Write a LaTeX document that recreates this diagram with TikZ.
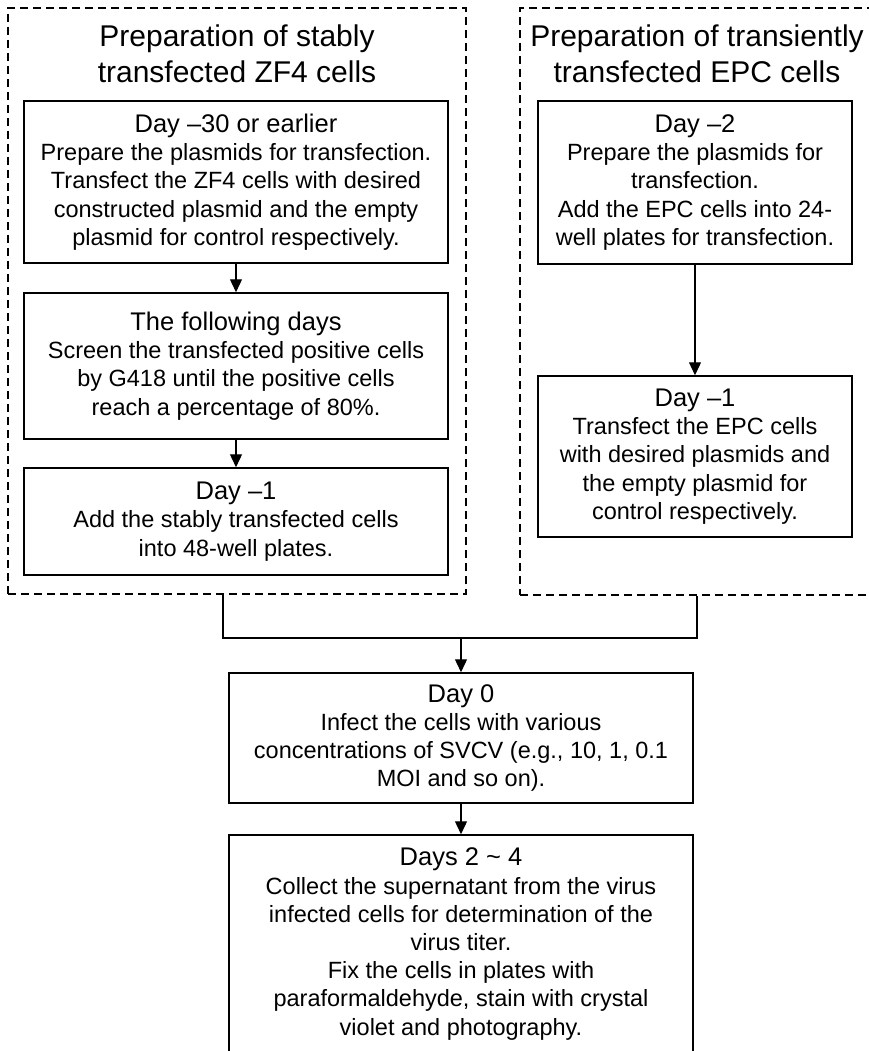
\documentclass[tikz,border=0pt]{standalone}
\usepackage{fontspec}
\setmainfont{Liberation Sans}
\usepackage{tikz}
\usetikzlibrary{positioning, arrows.meta}

\newcommand{\daylabel}[1]{{\fontsize{25.5}{28.2}\selectfont #1}}

\begin{document}
\begin{tikzpicture}[
    x=1pt, y=-1pt,
    step box/.style={draw=black, line width=1.5pt, inner sep=0pt, align=center,
        font=\fontsize{23.5}{28.2}\selectfont},
    group/.style={draw=black, line width=1.4pt, dash pattern=on 8pt off 5pt, inner sep=0pt},
    title/.style={align=center, inner sep=0pt, font=\fontsize{30}{36}\selectfont},
    link/.style={line width=1.3pt, black},
    arrow/.style={link, -{Triangle[length=13pt, width=12pt]}}
]
    \useasboundingbox (0,0) rectangle (869,1051);

    % --- Left group: stably transfected ZF4 cells
    \node[group, minimum width=458pt, minimum height=586pt] (LeftGrp) at (237, 301) {};
    \node[title] (LeftTitle) at (237, 54) {Preparation of stably\\transfected ZF4 cells};

    \node[step box, minimum width=424pt, minimum height=162pt] (Zfa) at (236, 182)
        {\daylabel{Day –30 or earlier}\\Prepare the plasmids for transfection.\\Transfect the ZF4 cells with desired\\constructed plasmid and the empty\\plasmid for control respectively.};
    \node[step box, minimum width=424pt, minimum height=146pt] (Zfb) at (236, 366)
        {\daylabel{The following days}\\Screen the transfected positive cells\\by G418 until the positive cells\\reach a percentage of 80\%.};
    \node[step box, minimum width=424pt, minimum height=107pt] (Zfc) at (236, 521.5)
        {\daylabel{Day –1}\\Add the stably transfected cells\\into 48-well plates.};

    % --- Right group: transiently transfected EPC cells
    \node[group, minimum width=365pt, minimum height=587pt] (RightGrp) at (702.5, 301.5) {};
    \node[title] (RightTitle) at (697, 54) {Preparation of transiently\\transfected EPC cells};

    \node[step box, minimum width=314pt, minimum height=163pt] (Epa) at (695, 182.5)
        {\daylabel{Day –2}\\Prepare the plasmids for\\transfection.\\Add the EPC cells into 24-\\well plates for transfection.};
    \node[step box, minimum width=314pt, minimum height=161pt] (Epb) at (695, 456.5)
        {\daylabel{Day –1}\\Transfect the EPC cells\\with desired plasmids and\\the empty plasmid for\\control respectively.};

    % --- Common steps
    \node[step box, minimum width=464pt, minimum height=130pt] (Infect) at (461, 738)
        {\daylabel{Day 0}\\Infect the cells with various\\concentrations of SVCV (e.g., 10, 1, 0.1\\MOI and so on).};
    \node[step box, minimum width=464pt, minimum height=218pt] (Collect) at (461, 944)
        {\daylabel{Days 2 \textasciitilde{} 4}\\Collect the supernatant from the virus\\infected cells for determination of the\\virus titer.\\Fix the cells in plates with\\paraformaldehyde, stain with crystal\\violet and photography.};

    \coordinate (JoinL) at (223, 638);
    \coordinate (JoinR) at (697, 638);
    \coordinate (Join)  at (461, 638);

    \draw[arrow] (Zfa) -- (Zfb);
    \draw[arrow] (Zfb) -- (Zfc);
    \draw[arrow] (Epa) -- (Epb);

    \draw[link] (JoinL |- LeftGrp.south) -- (JoinL) -- (JoinR) -- (JoinR |- RightGrp.south);
    \draw[arrow] (Join) -- (Infect);
    \draw[arrow] (Infect) -- (Collect);

\end{tikzpicture}
\end{document}
